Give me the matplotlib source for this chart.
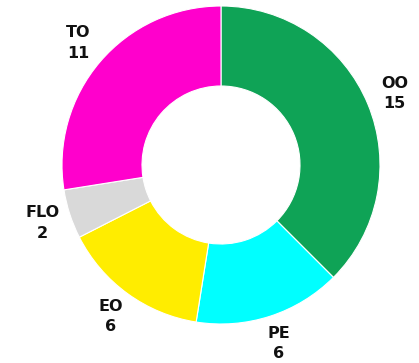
import matplotlib
matplotlib.use("Agg")
import matplotlib.pyplot as plt

categories = ["OO", "PE", "EO", "FLO", "TO"]
values = [15, 6, 6, 2, 11]
colors = ["#0FA356", "#00FFFF", "#FFED00", "#D9D9D9", "#FF00CC"]

W, H = 419, 363
fig = plt.figure(figsize=(W / 100, H / 100), dpi=100)
ax = fig.add_axes([0, 0, 1, 1])

cx, cy = 221, 165  # pixel centre of the ring (from top-left)
R = 159
ax.set_xlim(-cx, W - cx)
ax.set_ylim(-(H - cy), cy)
ax.set_aspect("equal")
ax.axis("off")

labels = [f"{c}\n{v}" for c, v in zip(categories, values)]
ax.pie(
    values,
    labels=labels,
    colors=colors,
    startangle=90,
    counterclock=False,
    radius=R,
    labeldistance=1.18,
    wedgeprops=dict(width=R - 79, edgecolor="white", linewidth=0.8),
    textprops=dict(ha="center", va="center", fontsize=11.5,
                   fontweight="bold", color="#111111", linespacing=1.45),
)
ax.set_xlim(-cx, W - cx)
ax.set_ylim(-(H - cy), cy)

fig.savefig("out.png", dpi=100)
